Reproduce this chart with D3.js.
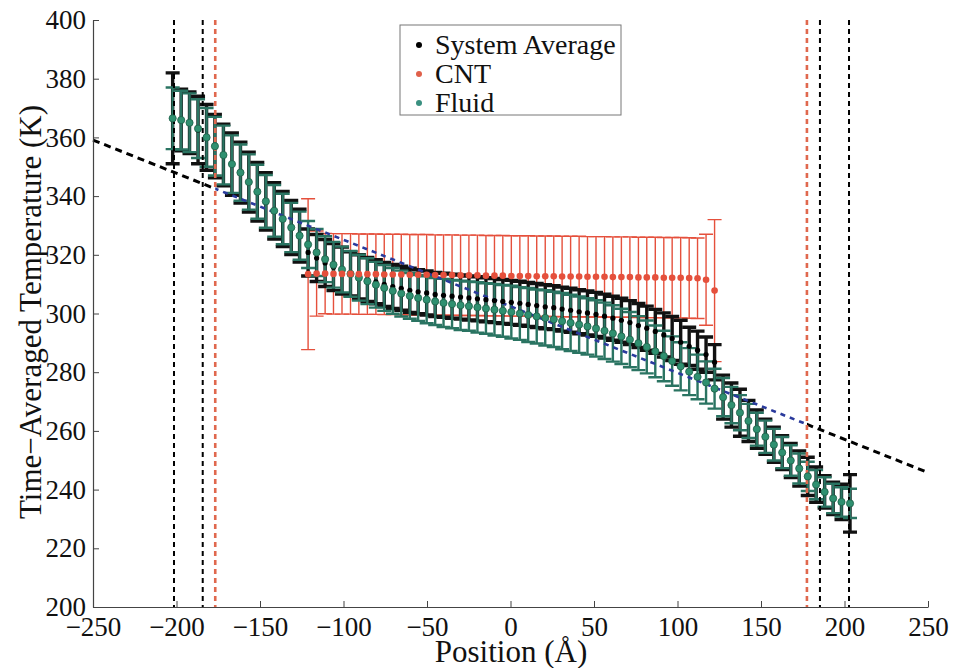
<!DOCTYPE html>
<html>
<head>
<meta charset="utf-8">
<script src="https://cdn.jsdelivr.net/npm/d3@7"></script>
<style>
  html, body { margin: 0; padding: 0; background: #fff; }
  svg { display: block; }
  text { font-family: "Liberation Serif", "Times New Roman", serif; fill: #111; }
</style>
</head>
<body>
<svg id="chart" width="953" height="668"></svg>
<script>
// Bin centres (Å)
const positions = [
  -202.3, -197.2, -192.2, -187.1, -182.0, -177.0, -171.9, -166.8, -161.7, -156.7,
  -151.6, -146.5, -141.5, -136.4, -131.3, -126.3, -121.2, -116.1, -111.0, -106.0,
  -100.9, -95.8, -90.8, -85.7, -80.6, -75.6, -70.5, -65.4, -60.3, -55.3,
  -50.2, -45.1, -40.1, -35.0, -29.9, -24.9, -19.8, -14.7, -9.6, -4.6,
  0.5, 5.6, 10.6, 15.7, 20.8, 25.9, 30.9, 36.0, 41.1, 46.1,
  51.2, 56.3, 61.3, 66.4, 71.5, 76.6, 81.6, 86.7, 91.8, 96.8,
  101.9, 107.0, 112.0, 117.1, 122.2, 127.3, 132.3, 137.4, 142.5, 147.5,
  152.6, 157.7, 162.7, 167.8, 172.9, 178.0, 183.0, 188.1, 193.2, 198.2,
  203.3
];

const fluidT = [
  366.5, 365.9, 365.0, 363.0, 360.0, 357.0, 354.0, 350.9, 348.0, 344.8,
  341.5, 338.2, 335.0, 332.2, 329.3, 326.5, 323.5, 320.8, 318.5, 316.6,
  315.0, 313.5, 312.2, 311.0, 309.8, 308.7, 307.7, 306.8, 306.0, 305.3,
  304.7, 304.1, 303.6, 303.2, 302.8, 302.5, 302.1, 301.7, 301.3, 300.9,
  300.5, 300.0, 299.5, 299.0, 298.5, 298.0, 297.4, 296.8, 296.2, 295.6,
  294.9, 294.1, 293.2, 292.2, 291.1, 289.9, 288.6, 287.1, 285.5, 283.8,
  282.0, 280.2, 278.4, 276.5, 274.4, 271.5, 268.8, 266.2, 263.4, 260.6,
  258.0, 255.3, 252.6, 249.9, 247.2, 244.5, 241.7, 239.2, 237.0, 235.8,
  235.3
];
const fluidErr = [
  10.5, 10.0, 10.0, 10.0, 10.0, 10.0, 10.0, 9.8, 9.6, 9.4,
  9.2, 9.0, 8.8, 8.6, 8.4, 8.2, 8.0, 8.0, 7.8, 7.8,
  7.8, 7.8, 7.8, 7.8, 7.8, 7.8, 7.8, 7.8, 7.8, 7.8,
  8.0, 8.0, 8.2, 8.2, 8.4, 8.4, 8.6, 8.6, 8.8, 8.8,
  9.0, 9.0, 9.2, 9.2, 9.4, 9.4, 9.6, 9.6, 9.6, 9.6,
  9.6, 9.6, 9.6, 9.4, 9.4, 9.2, 9.0, 8.8, 8.6, 8.4,
  8.2, 8.0, 7.6, 7.2, 6.8, 6.5, 6.2, 6.0, 5.8, 5.6,
  5.5, 5.4, 5.3, 5.2, 5.1, 5.0, 5.0, 5.0, 5.0, 5.0,
  5.0
];

const systemT = [
  366.5, 365.9, 365.0, 362.5, 360.0, 357.0, 354.0, 350.9, 348.0, 344.8,
  341.5, 338.2, 335.0, 332.2, 329.3, 326.5, 320.8, 318.9, 317.2, 315.8,
  314.6, 313.5, 312.5, 311.6, 310.8, 309.9, 309.2, 308.6, 307.9, 307.4,
  307.0, 306.5, 306.2, 305.9, 305.6, 305.3, 305.0, 304.7, 304.4, 304.1,
  303.8, 303.5, 303.1, 302.7, 302.3, 302.0, 301.5, 301.1, 300.6, 300.2,
  299.7, 299.1, 298.4, 297.7, 296.9, 295.9, 295.0, 293.9, 292.7, 291.5,
  290.2, 288.8, 287.5, 286.0, 283.4, 271.5, 268.8, 266.2, 263.4, 260.6,
  258.0, 255.3, 252.6, 249.9, 247.2, 244.5, 241.7, 239.2, 237.0, 235.8,
  235.3
];
const systemErr = [
  15.5, 10.5, 10.5, 11.5, 11.2, 10.8, 10.5, 10.6, 10.4, 10.2,
  10.0, 9.8, 9.6, 9.4, 9.2, 9.0, 8.0, 8.0, 8.0, 8.0,
  8.0, 7.5, 7.5, 7.5, 7.5, 7.5, 7.5, 7.5, 7.5, 7.5,
  7.5, 7.5, 7.5, 7.5, 7.5, 7.5, 7.5, 7.5, 7.5, 7.5,
  7.5, 7.5, 7.5, 7.5, 7.5, 7.5, 7.5, 7.5, 7.5, 7.5,
  7.5, 7.5, 7.5, 7.5, 7.5, 7.5, 7.5, 7.5, 7.5, 7.5,
  7.5, 6.5, 6.5, 6.0, 6.0, 7.5, 7.5, 8.0, 7.0, 6.5,
  6.0, 6.0, 5.8, 5.8, 6.0, 6.5, 6.0, 5.5, 5.5, 6.0,
  9.8
];

const cntPositions = [
  -121.2, -116.1, -111.0, -106.0, -100.9, -95.8, -90.8, -85.7, -80.6, -75.6,
  -70.5, -65.4, -60.3, -55.3, -50.2, -45.1, -40.1, -35.0, -29.9, -24.9,
  -19.8, -14.7, -9.6, -4.6, 0.5, 5.6, 10.6, 15.7, 20.8, 25.9,
  30.9, 36.0, 41.1, 46.1, 51.2, 56.3, 61.3, 66.4, 71.5, 76.6,
  81.6, 86.7, 91.8, 96.8, 101.9, 107.0, 112.0, 117.1, 122.2
];
const cntT = [
  313.4, 313.6, 313.6, 313.5, 313.5, 313.5, 313.4, 313.4, 313.4, 313.3,
  313.3, 313.3, 313.2, 313.2, 313.2, 313.1, 313.1, 313.1, 313.0, 313.0,
  313.0, 312.9, 312.9, 312.9, 312.8, 312.8, 312.8, 312.7, 312.7, 312.7,
  312.6, 312.6, 312.6, 312.5, 312.5, 312.5, 312.4, 312.4, 312.4, 312.3,
  312.3, 312.3, 312.2, 312.2, 312.2, 312.1, 312.0, 311.5, 307.8
];
const cntErr = [
  25.7, 14.5, 13.7, 13.7, 13.7, 13.7, 13.7, 13.7, 13.7, 13.7,
  13.7, 13.7, 13.7, 13.7, 13.7, 13.7, 13.7, 13.7, 13.7, 13.7,
  13.7, 13.7, 13.7, 13.7, 13.7, 13.7, 13.7, 13.7, 13.7, 13.7,
  13.7, 13.7, 13.7, 13.7, 13.7, 13.7, 13.7, 13.7, 13.7, 13.7,
  13.7, 13.7, 13.7, 13.7, 13.7, 13.7, 13.7, 15.5, 24.2
];

// linear fit of the temperature profile (end points)
const fitX = [-250, 250];
const fitT = [359.1, 245.8];

// reservoir / CNT boundaries (Å)
const boundaryBlack = [-201.5, -184.3, 185.3, 202.7];
const boundaryRed = [-176.8, 177.5];

const xTicks = [-250, -200, -150, -100, -50, 0, 50, 100, 150, 200, 250];
const yTicks = [200, 220, 240, 260, 280, 300, 320, 340, 360, 380, 400];

const legendLabels = ["System Average", "CNT", "Fluid"];
const legendColors = ["#000", "#e0604a", "#3a9080"];

const Plot = { left: 93, right: 928, top: 20, bottom: 607 };
const CapHalf = 7;

const svg = d3.select("#chart");

const x = d3.scaleLinear().domain([-250, 250]).range([Plot.left, Plot.right]);
const y = d3.scaleLinear().domain([200, 400]).range([Plot.bottom, Plot.top]);

function errorPath(px, t, e) {
  const cx = x(px), y1 = y(t + e), y2 = y(t - e);
  return `M${cx},${y1}V${y2}M${cx - CapHalf},${y1}H${cx + CapHalf}M${cx - CapHalf},${y2}H${cx + CapHalf}`;
}

function drawBars(xs, ts, es, color, width) {
  svg.append("g")
    .selectAll("path")
    .data(xs)
    .join("path")
    .attr("d", (d, i) => errorPath(d, ts[i], es[i]))
    .attr("fill", "none")
    .attr("stroke", color)
    .attr("stroke-width", width);
}

function drawDots(xs, ts, r, fill, stroke) {
  svg.append("g")
    .selectAll("circle")
    .data(xs)
    .join("circle")
    .attr("cx", d => x(d))
    .attr("cy", (d, i) => y(ts[i]))
    .attr("r", r)
    .attr("fill", fill)
    .attr("stroke", stroke || "none")
    .attr("stroke-width", 0.8);
}

// error bars: CNT under, then system average, then fluid
drawBars(cntPositions, cntT, cntErr, "#e5503c", 1.4);
drawBars(positions, systemT, systemErr, "#111", 3.4);
drawBars(positions, fluidT, fluidErr, "#2a7462", 2.4);

// fit line, black outside the CNT region and blue inside it
const defs = svg.append("defs");
defs.append("clipPath").attr("id", "inside")
  .append("rect")
  .attr("x", x(boundaryRed[0])).attr("y", 0)
  .attr("width", x(boundaryRed[1]) - x(boundaryRed[0])).attr("height", 668);
const outside = defs.append("clipPath").attr("id", "outside");
outside.append("rect").attr("x", 0).attr("y", 0).attr("width", x(boundaryRed[0])).attr("height", 668);
outside.append("rect").attr("x", x(boundaryRed[1])).attr("y", 0).attr("width", 953 - x(boundaryRed[1])).attr("height", 668);

const fitLine = d3.line().x(d => x(d[0])).y(d => y(d[1]));
const fitPts = fitX.map((v, i) => [v, fitT[i]]);

svg.append("path")
  .attr("d", fitLine(fitPts))
  .attr("clip-path", "url(#outside)")
  .attr("fill", "none").attr("stroke", "#000")
  .attr("stroke-width", 3).attr("stroke-dasharray", "7,5");
svg.append("path")
  .attr("d", fitLine(fitPts))
  .attr("clip-path", "url(#inside)")
  .attr("fill", "none").attr("stroke", "#2a3a9c")
  .attr("stroke-width", 2.6).attr("stroke-dasharray", "5,5");

// boundaries
svg.append("g")
  .selectAll("line")
  .data(boundaryBlack)
  .join("line")
  .attr("x1", d => x(d)).attr("x2", d => x(d))
  .attr("y1", y(400)).attr("y2", y(200))
  .attr("stroke", "#000").attr("stroke-width", 2)
  .attr("stroke-dasharray", "5,4");
svg.append("g")
  .selectAll("line")
  .data(boundaryRed)
  .join("line")
  .attr("x1", d => x(d)).attr("x2", d => x(d))
  .attr("y1", y(400)).attr("y2", y(200))
  .attr("stroke", "#e0684e").attr("stroke-width", 2.6)
  .attr("stroke-dasharray", "5,4");

// markers
drawDots(positions, systemT, 2.6, "#000");
drawDots(positions, fluidT, 3.6, "#2f9070", "#1d5e46");
drawDots(cntPositions, cntT, 3.3, "#e5503c");

// axes
const xAxis = d3.axisBottom(x).tickValues(xTicks).tickSizeInner(-6).tickSizeOuter(0).tickPadding(10);
const yAxis = d3.axisLeft(y).tickValues(yTicks).tickSizeInner(-6).tickSizeOuter(0).tickPadding(7);

const gx = svg.append("g").attr("transform", `translate(0,${Plot.bottom})`).call(xAxis);
const gy = svg.append("g").attr("transform", `translate(${Plot.left},0)`).call(yAxis);

[gx, gy].forEach(g => {
  g.select(".domain").attr("stroke", "#444").attr("stroke-width", 1.2);
  g.selectAll(".tick line").attr("stroke", "#444").attr("stroke-width", 1);
  g.selectAll(".tick text")
    .attr("fill", "#111")
    .style("font-family", '"Liberation Serif", "Times New Roman", serif')
    .style("font-size", "27px");
});

svg.append("text")
  .attr("x", 511).attr("y", 662)
  .attr("text-anchor", "middle")
  .style("font-size", "31px")
  .text("Position (Å)");

svg.append("text")
  .attr("transform", "translate(41,312) rotate(-90)")
  .attr("text-anchor", "middle")
  .style("font-size", "31px")
  .text("Time\u2212Averaged Temperature (K)");

// legend
const legend = svg.append("g").attr("transform", "translate(400,25)");
legend.append("rect")
  .attr("width", 221).attr("height", 90)
  .attr("fill", "#fff").attr("stroke", "#777").attr("stroke-width", 1);
const rows = legend.selectAll("g.row")
  .data(legendLabels)
  .join("g")
  .attr("class", "row")
  .attr("transform", (d, i) => `translate(0,${20 + i * 29})`);
rows.append("circle")
  .attr("cx", 19).attr("cy", 0).attr("r", 3)
  .attr("fill", (d, i) => legendColors[i]);
rows.append("text")
  .attr("x", 35).attr("y", 9)
  .style("font-size", "28px")
  .text(d => d);
</script>
</body>
</html>
